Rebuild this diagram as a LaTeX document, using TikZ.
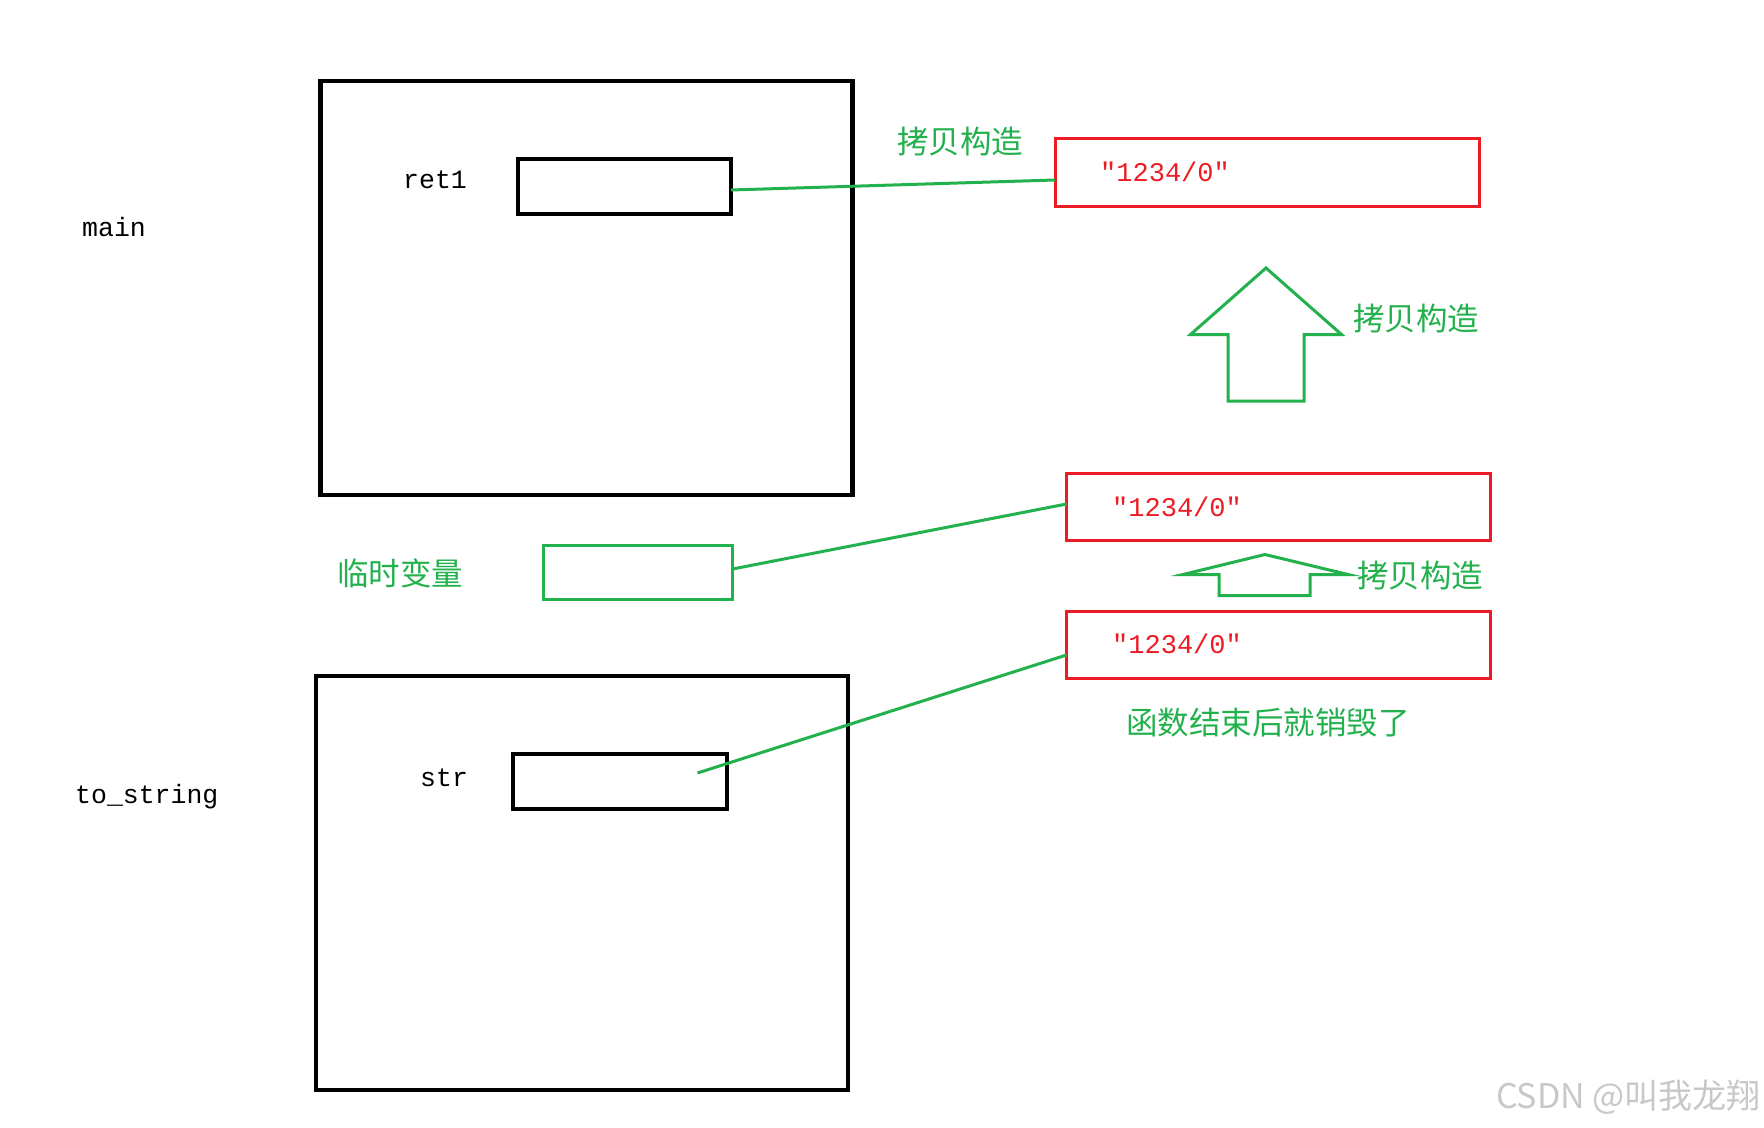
\documentclass[tikz,border=0pt]{standalone}
\usepackage{fontspec}
\setmainfont{Liberation Serif}
\newfontfamily\cjkfont{Noto Sans CJK SC}
\newfontfamily\monofont{Liberation Mono}
\definecolor{pgreen}{RGB}{34,177,76}
\definecolor{pred}{RGB}{237,28,36}
\definecolor{wmgray}{RGB}{200,200,200}
\begin{document}
\begin{tikzpicture}[x=1pt,y=-1pt,
  blackbox/.style={draw=black,line width=4.5pt,inner sep=0pt,outer sep=0pt},
  smallbox/.style={draw=black,line width=4pt,inner sep=0pt,outer sep=0pt},
  redbox/.style={draw=pred,line width=3pt,inner sep=0pt,outer sep=0pt},
  greenbox/.style={draw=pgreen,line width=3pt,inner sep=0pt,outer sep=0pt},
  link/.style={draw=pgreen,line width=3pt},
  bigarrow/.style={draw=pgreen,line width=3pt,line join=miter},
  monolabel/.style={font=\monofont\fontsize{26.5}{26.5}\selectfont,anchor=west,inner sep=0pt},
  redtext/.style={font=\monofont\fontsize{27}{27}\selectfont,text=pred,anchor=west,inner sep=0pt},
  cnlabel/.style={font=\cjkfont\fontsize{31.5}{31.5}\selectfont,text=pgreen,anchor=west,inner sep=0pt}]
\useasboundingbox[fill=white] (0,0) rectangle (1764,1127);

% main frame
\node[blackbox,minimum width=532pt,minimum height=414pt] (mainbox) at (586.5,288) {};
\node[smallbox,minimum width=213pt,minimum height=55pt] (ret1box) at (624.5,186) {};
\node[monolabel] (ret1) at (403,180) {ret1};
\node[monolabel] (mainlbl) at (82,227) {main};

% to_string frame
\node[blackbox,minimum width=532pt,minimum height=414pt] (tsbox) at (582,883) {};
\node[smallbox,minimum width=214pt,minimum height=55pt] (strbox) at (620,781.5) {};
\node[monolabel] (strlbl) at (420,778) {str};
\node[monolabel] (tslbl) at (75,797) {to\_string};

% red string boxes
\node[redbox,minimum width=424pt,minimum height=68pt] (red1) at (1267,172) {};
\node[redtext] (red1t) at (1100,172) {"1234/0"};
\node[redbox,minimum width=424pt,minimum height=67pt] (red2) at (1278.5,507) {};
\node[redtext] (red2t) at (1112,507) {"1234/0"};
\node[redbox,minimum width=424pt,minimum height=67pt] (red3) at (1278.5,644.5) {};
\node[redtext] (red3t) at (1112,644) {"1234/0"};

% temporary
\node[greenbox,minimum width=189pt,minimum height=54pt] (tmpbox) at (638,572.5) {};
\node[cnlabel] (tmplbl) at (337,573) {临时变量};

% labels
\node[cnlabel] (copy1) at (897,142) {拷贝构造};
\node[cnlabel] (copy2) at (1353,319) {拷贝构造};
\node[cnlabel] (copy3) at (1357,576) {拷贝构造};
\node[cnlabel] (destroy) at (1126,723) {函数结束后就销毁了};

% connectors
\coordinate (strinner) at (697.5,773);
\draw[link] (ret1box.east |- 0,190) -- (red1.west |- 0,180);
\draw[link] (tmpbox.east |- 0,569) -- (red2.west |- 0,504);
\draw[link] (strinner) -- (red3.west |- 0,655);

% big arrows
\draw[bigarrow] (1228,401) -- (1228,334.5) -- (1190.5,334.5) -- (1266,268) -- (1341.5,334.5) -- (1304,334.5) -- (1304,401) -- cycle;
\draw[bigarrow] (1219,595.5) -- (1219,574.5) -- (1183,574.5) -- (1265,554.5) -- (1348,574.5) -- (1310,574.5) -- (1310,595.5) -- cycle;

% watermark
\node[font=\cjkfont\fontsize{34}{34}\selectfont,text=wmgray,anchor=east,inner sep=0pt] (wm) at (1761,1097) {CSDN @叫我龙翔};
\end{tikzpicture}
\end{document}
